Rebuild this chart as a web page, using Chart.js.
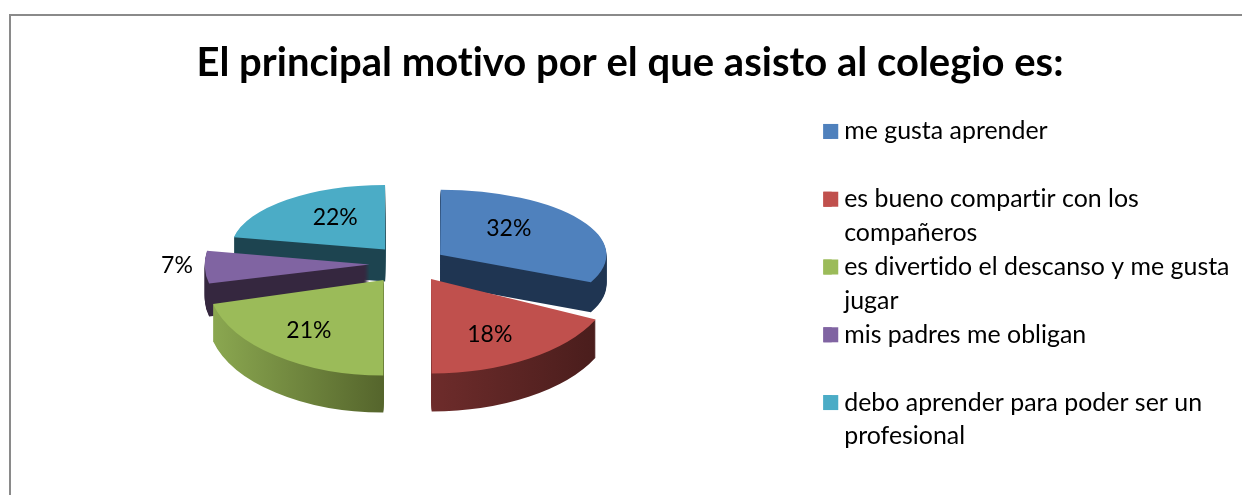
<!DOCTYPE html>
<html><head><meta charset="utf-8">
<style>
html,body{margin:0;padding:0;background:#fff}
#wrap{position:absolute;left:0;top:0;width:1242px;height:495px;overflow:hidden}
#frame{position:absolute;left:9px;top:14px;width:1300px;height:600px;border-top:2px solid #8a8a8a;border-left:2px solid #8a8a8a}
canvas{position:absolute;left:0;top:0}
</style>
<script src="https://cdn.jsdelivr.net/npm/chart.js@4/dist/chart.umd.min.js"></script>
</head><body>
<div id="wrap"><div id="frame"></div><canvas id="c" width="1242" height="495"></canvas></div>
<script>
const titleText = 'El principal motivo por el que asisto al colegio es:';
const categories = ['me gusta aprender','es bueno compartir con los compañeros','es divertido el descanso y me gusta jugar','mis padres me obligan','debo aprender para poder ser un profesional'];
const legendLines = [['me gusta aprender',''],['es bueno compartir con los','compañeros'],['es divertido el descanso y me gusta','jugar'],['mis padres me obligan',''],['debo aprender para poder ser un','profesional']];
const values = [32,18,21,7,22];
const colors = ['#4F81BD','#C0504D','#9BBB59','#8064A2','#4BACC6'];
const sideColors = [['#1F3552','#1F3552'],['#6E2C2B','#471C1B'],['#8CA951','#55652C'],['#35273F','#35273F'],['#1D4450','#1D4450']];
const explode = [160,160,150,156,140];
const scaleX = [0.985,1.08,1.06,0.88,0.93];
const tilt = [0.385,0.56,0.575,0.44,0.39];
const depth = [30,38,37,33,32];
const nudge = [[-1,0],[0,-3],[0,0],[-4,1],[-2,-3]];
const pieShift = {x:-14, y:-44};
const drawOrder = [4,0,3,1,2];
const labelShift = [[0,-9],[11,17],[-21,13],[-120,0],[-1,-7]];
const R = 165;
const swatch = 15;

function placeSlice(ctx, el, i, extra){
  ctx.translate(el.x + pieShift.x + nudge[i][0], el.y + pieShift.y + nudge[i][1] + extra);
  ctx.scale(scaleX[i], tilt[i]);
  ctx.translate(-el.x, -el.y);
}
const pie3d = {
  id:'pie3d',
  beforeInit(chart){ chart.ctx.letterSpacing='0.01px'; },
  beforeLayout(chart){ chart.ctx.letterSpacing='0.01px'; },
  beforeDraw(chart){ chart.ctx.letterSpacing='0.01px'; },
  beforeDatasetDraw(chart){
    const ctx = chart.ctx, arcs = chart.getDatasetMeta(0).data;
    drawOrder.forEach(i=>{
      const el = arcs[i], base = el.options;
      const mid = (el.startAngle+el.endAngle)/2;
      for(let d=depth[i]; d>=0; d--){
        ctx.save();
        placeSlice(ctx, el, i, d);
        let fill = base.backgroundColor;
        if(d>0){
          const right = Math.cos(mid)>0;
          const g = ctx.createLinearGradient(el.x+(right?0:-R), 0, el.x+(right?R:0), 0);
          g.addColorStop(0,sideColors[i][0]);g.addColorStop(1,sideColors[i][1]);
          fill = g;
        }
        el.options = Object.assign({}, base, {backgroundColor:fill});
        el.draw(ctx);
        el.options = base;
        ctx.restore();
      }
    });
    return false;
  },
  afterDatasetsDraw(chart){
    const ctx = chart.ctx, arcs = chart.getDatasetMeta(0).data;
    ctx.save();
    ctx.fillStyle='#000';
    ctx.font='23px Lato';
    ctx.textAlign='center';ctx.textBaseline='middle';
    const total = values.reduce((a,b)=>a+b,0);
    arcs.forEach((el,i)=>{
      const mid=(el.startAngle+el.endAngle)/2;
      const off=(el.options.offset||0)/4 + R/2;
      const x=el.x+pieShift.x+nudge[i][0]+Math.cos(mid)*off*scaleX[i]+labelShift[i][0];
      const y=el.y+pieShift.y+nudge[i][1]+Math.sin(mid)*off*tilt[i]+labelShift[i][1];
      ctx.fillText(Math.round(values[i]/total*100)+'%',x,y);
    });
    ctx.restore();
  },
  afterDraw(chart){
    // the legend's gap between swatch and text follows its font size; widen the swatch up to the reference width
    const ctx = chart.ctx, lg = chart.legend;
    ctx.save();
    lg.legendHitBoxes.forEach((b,i)=>{
      const fs = lg.options.labels.font.size;
      ctx.fillStyle = colors[i];
      ctx.fillRect(b.left, b.top+(fs-swatch)/2, swatch, swatch);
    });
    ctx.restore();
  }
};
new Chart(document.getElementById('c'),{
  type:'pie',
  data:{labels:categories,datasets:[{data:values,backgroundColor:colors,borderWidth:0,offset:explode,radius:R}]},
  plugins:[pie3d],
  options:{
    responsive:false,animation:false,
    layout:{padding:{left:20.5,right:2.5,top:0,bottom:0}},
    plugins:{
      tooltip:{enabled:false},
      title:{display:true,text:titleText,color:'#000',font:{family:'Lato',size:40,weight:'bold',lineHeight:1.2},padding:{top:39,bottom:32}},
      legend:{position:'right',align:'start',fullSize:false,
        labels:{color:'#000',font:{family:'Lato',size:24.9,lineHeight:1.361},padding:0,boxWidth:8.5,boxHeight:15,
          generateLabels(){return legendLines.map((t,i)=>({text:t,fillStyle:colors[i],strokeStyle:colors[i],lineWidth:0,index:i}));}
        }
      }
    }
  }
});
</script>
</body></html>
